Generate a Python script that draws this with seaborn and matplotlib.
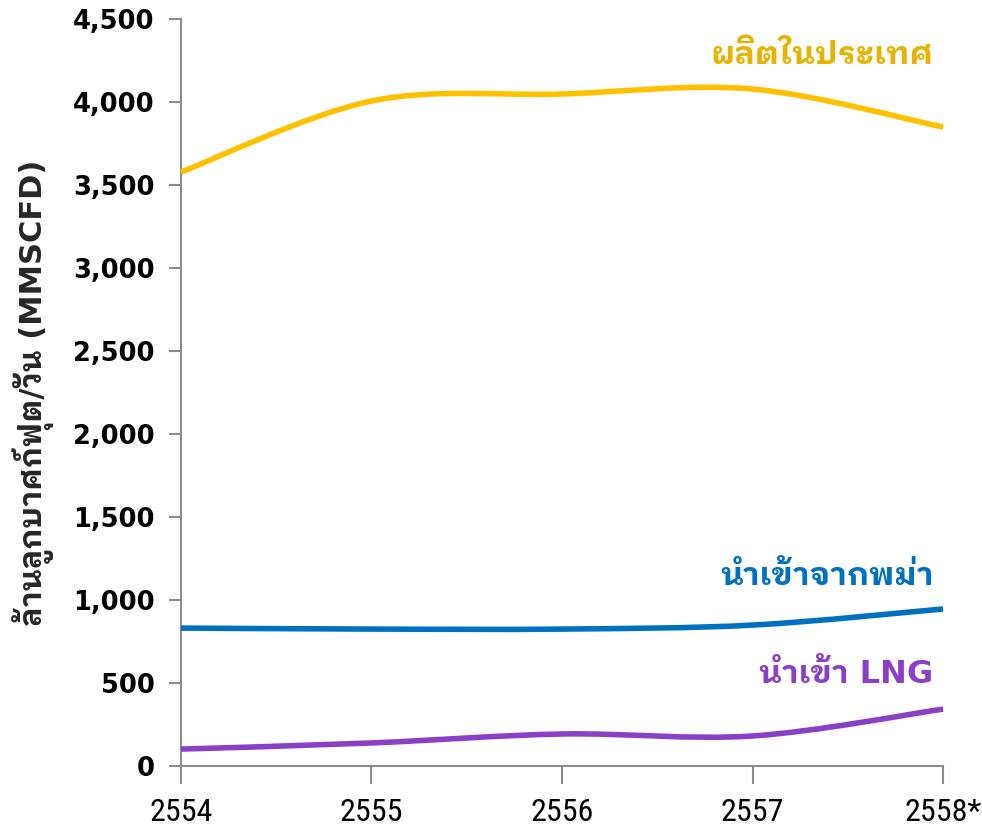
import matplotlib
matplotlib.use('Agg')
import matplotlib.pyplot as plt
import seaborn as sns
from matplotlib.path import Path
from matplotlib.patches import PathPatch

# Data
years = ['2554', '2555', '2556', '2557', '2558*']
domestic = [3578, 4006, 4048, 4078, 3849]
myanmar = [831, 825, 825, 849, 946]
lng = [102, 139, 193, 181, 343]

series_names = ['ผลิตในประเทศ', 'นำเข้าจากพม่า', 'นำเข้า LNG']
line_colors = ['#FFC000', '#0070C0', '#8B3FC6']
label_colors = ['#E6B400', '#0070C0', '#8B3FC6']

sns.set_style('ticks')
plt.rcParams['font.family'] = ['DejaVu Sans', 'IBM Plex Sans Thai Looped']


def smooth_path(xs, ys):
    # Excel-style smoothed line: cubic Bezier segments with Catmull-Rom control points
    pts = list(zip(xs, ys))
    verts = [pts[0]]
    codes = [Path.MOVETO]
    for i in range(len(pts) - 1):
        p0 = pts[i - 1] if i > 0 else pts[i]
        p1 = pts[i]
        p2 = pts[i + 1]
        p3 = pts[i + 2] if i + 2 < len(pts) else pts[i + 1]
        c1 = (p1[0] + (p2[0] - p0[0]) / 6, p1[1] + (p2[1] - p0[1]) / 6)
        c2 = (p2[0] - (p3[0] - p1[0]) / 6, p2[1] - (p3[1] - p1[1]) / 6)
        verts += [c1, c2, p2]
        codes += [Path.CURVE4] * 3
    return Path(verts, codes)


fig = plt.figure(figsize=(9.82, 8.33), dpi=100)
ax = fig.add_axes([0.1843, 0.0804, 0.7760, 0.8968])

x = list(range(len(years)))
for vals, col in zip([domestic, myanmar, lng], line_colors):
    ax.add_patch(PathPatch(smooth_path(x, vals), facecolor='none', edgecolor=col,
                           lw=4, capstyle='butt', clip_on=False, zorder=3))

ax.set_xlim(0, len(years) - 1)
ax.set_ylim(0, 4500)
ax.set_yticks(range(0, 4501, 500))
ax.set_yticklabels([f'{v:,}' for v in range(0, 4501, 500)], fontsize=18.5, fontweight='bold')
ax.set_xticks(x)
ax.set_xticklabels(years, fontsize=23, family=['Roboto Condensed', 'DejaVu Sans'])

sns.despine(ax=ax)
for s in ['left', 'bottom']:
    ax.spines[s].set_color('#8C8C8C')
    ax.spines[s].set_linewidth(1.5)
ax.tick_params(axis='y', colors='#8C8C8C', length=9, width=1.5, labelcolor='black', pad=10)
ax.tick_params(axis='x', colors='#8C8C8C', length=13, width=1.5, labelcolor='black', pad=10)

ax.set_ylabel('ล้านลูกบาศก์ฟุต/วัน (MMSCFD)', fontsize=22, fontweight='bold', labelpad=14)

# Series labels
label_y = [4280, 1140, 550]
for name, col, ly in zip(series_names, label_colors, label_y):
    ax.text(3.95, ly, name, color=col, fontsize=23, fontweight='bold', ha='right', va='center')

fig.savefig('out.png', dpi=100)
